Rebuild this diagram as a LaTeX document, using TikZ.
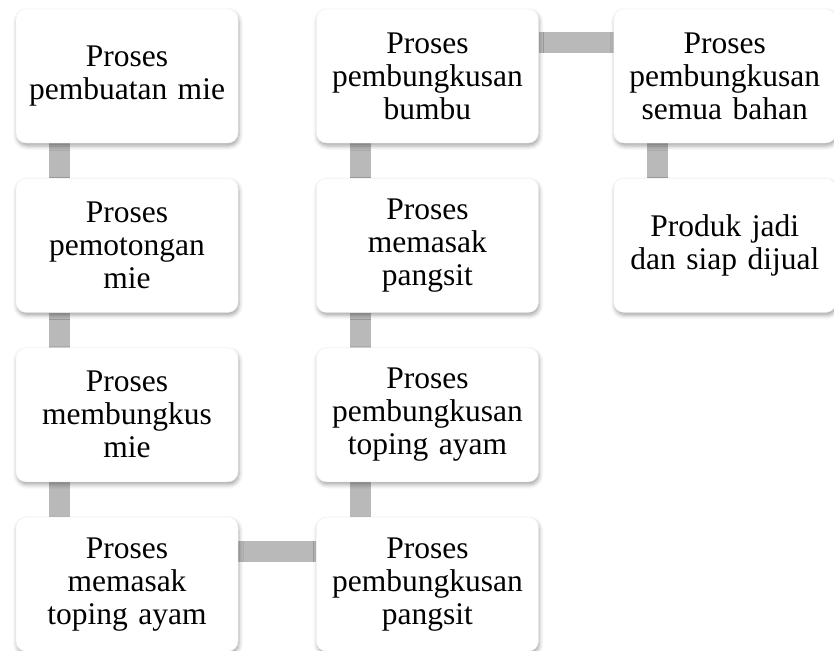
\documentclass[tikz,border=0pt]{standalone}
\usepackage{fontspec}
\setmainfont{Liberation Serif}
\usetikzlibrary{positioning,backgrounds,shadows.blur}
\tikzstyle{block} = [rectangle, draw=black!6, fill=white, text width=210pt, align=center, rounded corners=10pt, minimum width=222pt, minimum height=134pt, inner sep=0pt, font=\fontsize{31.5}{33}\selectfont, blur shadow={shadow xshift=1pt, shadow yshift=-3pt, shadow blur radius=4pt, shadow opacity=35}]
\tikzstyle{link} = [line width=21pt, draw=gray!55]

\begin{document}
\begin{tikzpicture}[node distance=35pt and 78pt]
   \useasboundingbox (0pt,0pt) rectangle (834pt,-650pt);
   % nodes
   \node[block] (a) at (127pt,-76pt)  {Proses\\pembuatan mie};
   \node[block] (b) [below=of a]      {Proses\\pemotongan\\mie};
   \node[block] (c) [below=of b]      {Proses\\membungkus\\mie};
   \node[block] (d) [below=of c]      {Proses\\memasak\\toping ayam};
   \node[block] (e) [right=of d]      {Proses\\pembungkusan\\pangsit};
   \node[block] (f) [above=of e]      {Proses\\pembungkusan\\toping ayam};
   \node[block] (g) [above=of f]      {Proses\\memasak\\pangsit};
   \node[block] (h) [above=of g]      {Proses\\pembungkusan\\bumbu};
   \node[block] (i) [right=75pt of h] {Proses\\pembungkusan\\semua bahan};
   \node[block] (j) [below=of i]      {Produk jadi\\dan siap dijual};

   % edges
   \begin{scope}[on background layer]
   \draw[link] ([xshift=44pt]a.south west) -- ([xshift=44pt]b.north west);
   \draw[link] ([xshift=44pt]b.south west) -- ([xshift=44pt]c.north west);
   \draw[link] ([xshift=44pt]c.south west) -- ([xshift=44pt]d.north west);
   \draw[link] ([yshift=-34pt]d.north east) -- ([yshift=-34pt]e.north west);
   \draw[link] ([xshift=44pt]e.north west) -- ([xshift=44pt]f.south west);
   \draw[link] ([xshift=44pt]f.north west) -- ([xshift=44pt]g.south west);
   \draw[link] ([xshift=44pt]g.north west) -- ([xshift=44pt]h.south west);
   \draw[link] ([yshift=-34pt]h.north east) -- ([yshift=-34pt]i.north west);
   \draw[link] ([xshift=44pt]i.south west) -- ([xshift=44pt]j.north west);
   \end{scope}
\end{tikzpicture}
\end{document}
